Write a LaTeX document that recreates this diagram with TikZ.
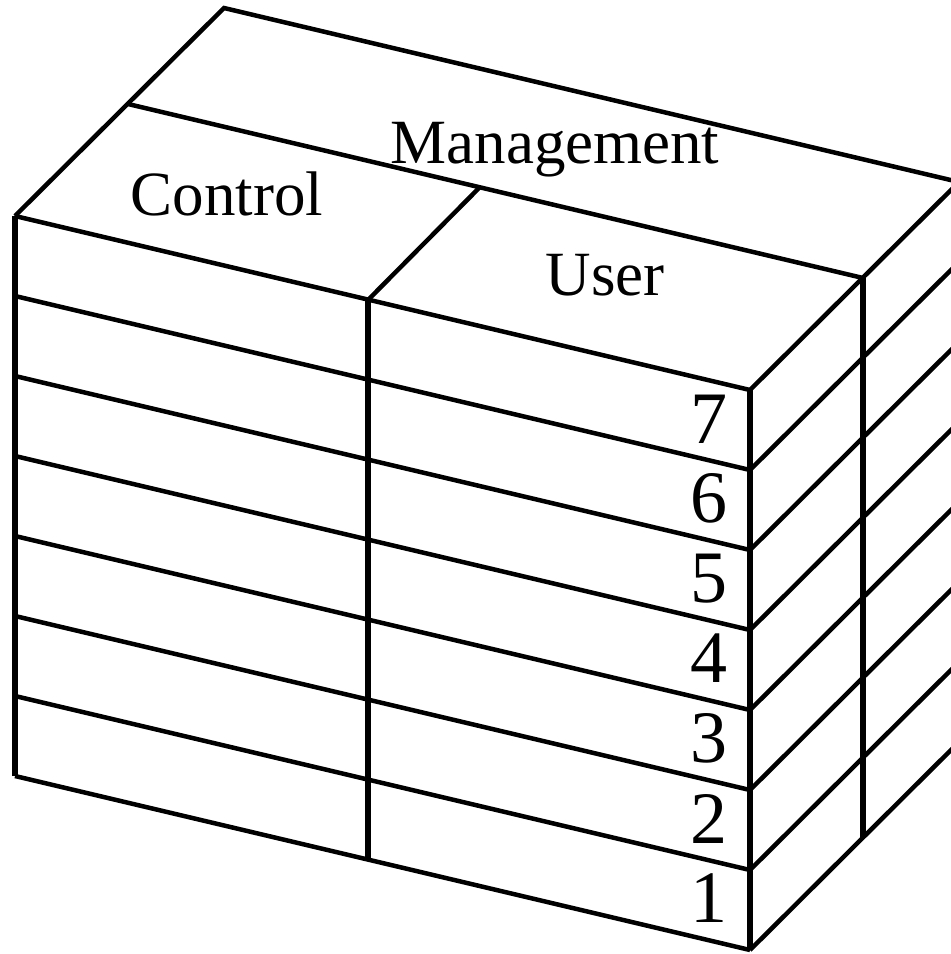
\documentclass[tikz,border=0pt]{standalone}
\usepackage{fontspec}
\setmainfont{Liberation Serif}
\usepackage{tikz}
\usetikzlibrary{calc}

\begin{document}
\begin{tikzpicture}[x=1pt,y=-1pt,line join=miter,
  rim/.style={line width=4.5pt},
  post/.style={line width=5.5pt}]

    \tikzstyle{plane} = [inner sep=0pt,anchor=base,font=\fontsize{63}{63}\selectfont]
    \tikzstyle{layer} = [inner sep=0pt,anchor=base,font=\fontsize{74}{74}\selectfont]

  \clip (0,0) rectangle (951,954);

  % corners of the cube
  \coordinate (ftl) at (15,216);
  \coordinate (ftr) at (750,390);
  \coordinate (fbl) at (15,776);
  \coordinate (fbr) at (750,950);
  \coordinate (btl) at (224,8);
  \coordinate (btr) at (959,182);

  % management plane
  \coordinate (ml) at (128,104);
  \coordinate (mr) at (863,278);
  \coordinate (mb) at (863,837);

  % control / user split
  \coordinate (st) at (368,300);
  \coordinate (sb) at (368,860);
  \coordinate (sk) at (479,188);

  \draw[rim] (fbr) -- (fbl);
  \draw[post] (fbl) -- (ftl);
  \draw[rim] (ftl) -- (btl) -- (btr);
  \draw[rim] (ftl) -- (ftr);
  \draw[post] (ftr) -- (fbr);
  \draw[rim] (ml) -- (mr);
  \draw[post] (mr) -- (mb);
  \draw[post] (st) -- (sb);
  \draw[rim] (st) -- (sk);

  % layers
  \foreach \k in {1,...,6}
    \draw[rim] ($(ftl)+(0,80*\k)$) -- ($(ftr)+(0,80*\k)$);
  \foreach \k in {0,...,7}
    \draw[rim] ($(ftr)+(0,80*\k)$) -- ($(btr)+(0,80*\k)$);

  \node[plane] (mgmt) at (555,163) {Management};
  \node[plane] (ctrl) at (227,215) {Control};
  \node[plane] (user) at (605,295) {User};

  \node[layer] (l7) at (709,443) {7};
  \node[layer] (l6) at (709,522) {6};
  \node[layer] (l5) at (709,602) {5};
  \node[layer] (l4) at (709,682) {4};
  \node[layer] (l3) at (709,762) {3};
  \node[layer] (l2) at (709,843) {2};
  \node[layer] (l1) at (709,922) {1};

\end{tikzpicture}
\end{document}
